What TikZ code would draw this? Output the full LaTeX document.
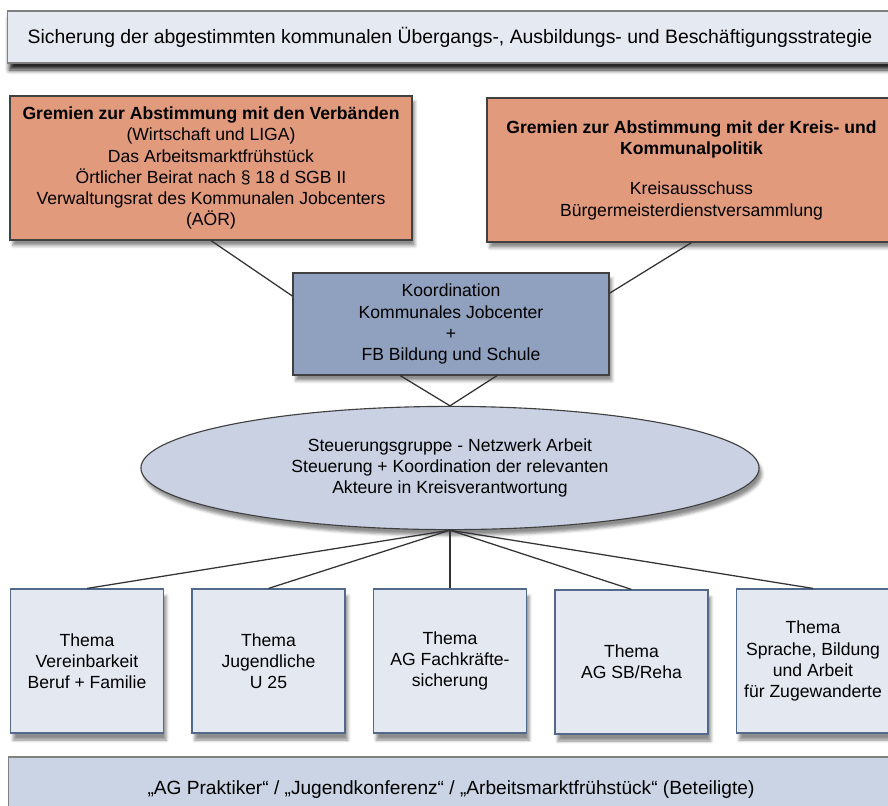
\documentclass[tikz,border=0pt]{standalone}
\usepackage{fontspec}
\setmainfont{Liberation Sans}
\usetikzlibrary{shapes.geometric,shadows.blur}
\definecolor{topfill}{HTML}{E5E9F1}
\definecolor{gremfill}{HTML}{E29A7D}
\definecolor{koordfill}{HTML}{8FA1BE}
\definecolor{steuerfill}{HTML}{C9D1E2}
\definecolor{themafill}{HTML}{E3E8F1}
\definecolor{themaline}{HTML}{52698C}
\definecolor{basisfill}{HTML}{CAD4E4}
\tikzset{
  kasten/.style={draw=black!75, line width=0.8pt, align=center, inner sep=2pt,
    font=\fontsize{12.5}{15}\selectfont},
  topbox/.style={kasten, fill=topfill, draw=black!50, minimum width=22.1cm, minimum height=1.3cm,
    font=\fontsize{13.8}{16}\selectfont,
    blur shadow={shadow xshift=1pt, shadow yshift=-5pt, shadow opacity=85, shadow blur radius=3pt}},
  gremium/.style={kasten, fill=gremfill, minimum width=10.05cm, minimum height=3.6cm,
    blur shadow={shadow xshift=2pt, shadow yshift=-4pt, shadow opacity=45}},
  koordbox/.style={kasten, fill=koordfill, minimum width=7.9cm, minimum height=2.55cm,
    blur shadow={shadow xshift=2pt, shadow yshift=-4pt, shadow opacity=45}},
  steuerell/.style={kasten, ellipse, fill=steuerfill, minimum width=15.45cm, minimum height=3.08cm,
    blur shadow={shadow xshift=2pt, shadow yshift=-4pt, shadow opacity=45}},
  themabox/.style={kasten, fill=themafill, draw=themaline, minimum width=3.825cm, minimum height=3.6cm,
    blur shadow={shadow xshift=2pt, shadow yshift=-5pt, shadow opacity=45}},
  basisbox/.style={kasten, fill=basisfill, draw=black!50, minimum width=22.1cm, minimum height=1.65cm,
    font=\fontsize{13.6}{16}\selectfont},
  verbindung/.style={draw=black!80, line width=0.9pt}
}

\begin{document}
\begin{tikzpicture}[x=0.025cm,y=-0.025cm]
    \useasboundingbox (0,0) rectangle (888,805);

    \node[topbox] at (450,37) (top) {Sicherung der abgestimmten kommunalen Übergangs-, Ausbildungs- und Beschäftigungsstrategie};

    \node[gremium] at (211,168) (gremverb) {\textbf{Gremien zur Abstimmung mit den Verbänden}\\(Wirtschaft und LIGA)\\Das Arbeitsmarktfrühstück\\Örtlicher Beirat nach § 18 d SGB II\\Verwaltungsrat des Kommunalen Jobcenters\\(AÖR)};
    \node[gremium, minimum width=10.225cm] at (691.5,170) (gremkreis) {\textbf{Gremien zur Abstimmung mit der Kreis- und}\\\textbf{Kommunalpolitik}\\[14pt]Kreisausschuss\\Bürgermeisterdienstversammlung};

    \node[koordbox] at (451,324) (koord) {Koordination\\Kommunales Jobcenter\\+\\FB Bildung und Schule};

    \node[steuerell] at (450,468) (steuer) {Steuerungsgruppe - Netzwerk Arbeit\\Steuerung + Koordination der relevanten\\Akteure in Kreisverantwortung};

    \node[themabox] at (87,661) (thema1) {Thema\\Vereinbarkeit\\Beruf + Familie};
    \node[themabox] at (268.5,661) (thema2) {Thema\\Jugendliche\\U 25};
    \node[themabox] at (450,661) (thema3) {Thema\\AG Fachkräfte-\\sicherung};
    \node[themabox] at (631.5,662) (thema4) {Thema\\AG SB/Reha};
    \node[themabox] at (813,661) (thema5) {Thema\\Sprache, Bildung\\und Arbeit\\für Zugewanderte};

    \node[basisbox] at (451,790) (basis) {„AG Praktiker“ / „Jugendkonferenz“ / „Arbeitsmarktfrühstück“ (Beteiligte)};

    \draw[verbindung] (gremverb.south) -- (koord.170);
    \draw[verbindung] (gremkreis.south) -- (koord.11);
    \draw[verbindung] ([xshift=-1.27cm]koord.south) -- (steuer.north) -- ([xshift=1.15cm]koord.south);
    \foreach \i in {1,...,5}
      \draw[verbindung] (steuer.south) -- (thema\i.north);
\end{tikzpicture}
\end{document}
